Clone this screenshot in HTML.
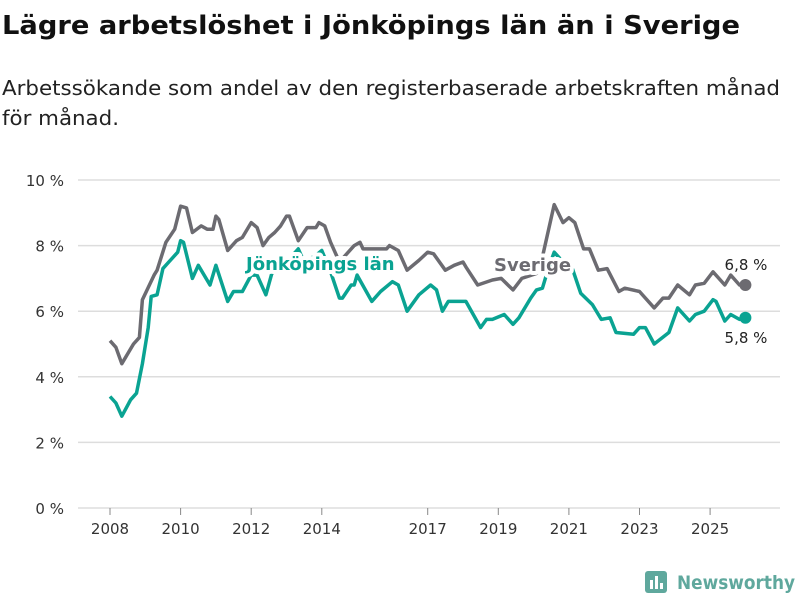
<!DOCTYPE html>
<html><head><meta charset="utf-8"><style>
body{margin:0;background:#fff;}
svg text{font-family:"DejaVu Sans","Liberation Sans",sans-serif;}
</style></head><body>
<svg id="chart" width="800" height="600" xmlns="http://www.w3.org/2000/svg">
<text x="2" y="34" font-size="26" font-weight="bold" fill="#111" textLength="738" lengthAdjust="spacingAndGlyphs">Lägre arbetslöshet i Jönköpings län än i Sverige</text>
<text x="2" y="95" font-size="20" fill="#222" textLength="778" lengthAdjust="spacingAndGlyphs">Arbetssökande som andel av den registerbaserade arbetskraften månad</text>
<text x="2" y="125" font-size="20" fill="#222" textLength="117" lengthAdjust="spacingAndGlyphs">för månad.</text>
<g id="grid"></g><g id="xaxis"></g><g id="lines"></g><g id="labels"></g>
<g>
<rect x="645" y="571" width="22" height="22" rx="3" fill="#5fa89d"/>
<rect x="650" y="580" width="3" height="9" fill="#fff"/><rect x="655" y="576" width="3" height="13" fill="#fff"/><rect x="660" y="583" width="3" height="6" fill="#fff"/>
<text x="677" y="589" font-size="19" font-weight="bold" fill="#5fa89d" textLength="118" lengthAdjust="spacingAndGlyphs">Newsworthy</text>
</g>
</svg>
<script>
const yTicks=[0,2,4,6,8,10];
const xTickYears=[2008,2010,2012,2014,2017,2019,2021,2023,2025];
const sveMonths=[0,2,4,8,10,11,15,16,19,22,24,26,28,31,33,35,36,37,40,43,45,48,50,52,54,56,58,60,61,64,67,70,71,73,75,78,83,85,86,94,95,98,101,105,108,110,114,117,120,121,125,130,133,137,140,145,147,151,154,156,158,161,163,166,169,173,175,180,185,188,190,193,197,199,202,205,209,211,214,216];
const sveValues=[5.1,4.9,4.4,5.0,5.2,6.35,7.1,7.25,8.1,8.5,9.2,9.15,8.4,8.6,8.5,8.5,8.9,8.8,7.85,8.15,8.25,8.7,8.55,8.0,8.25,8.4,8.6,8.9,8.9,8.15,8.55,8.55,8.7,8.6,8.1,7.5,8.0,8.1,7.9,7.9,8.0,7.85,7.25,7.55,7.8,7.75,7.25,7.4,7.5,7.35,6.8,6.95,7.0,6.65,7.0,7.15,7.65,9.25,8.7,8.85,8.7,7.9,7.9,7.25,7.3,6.6,6.7,6.6,6.1,6.4,6.4,6.8,6.5,6.8,6.85,7.2,6.8,7.1,6.8,6.8];
const jkpMonths=[0,2,4,7,9,11,13,14,16,18,20,23,24,25,28,30,34,36,40,42,45,48,50,53,55,60,64,66,70,72,75,78,79,82,83,84,89,92,96,98,101,105,109,111,113,115,121,126,128,130,134,137,139,143,145,147,149,151,153,157,160,164,167,170,172,178,180,182,185,190,193,197,199,202,205,206,209,211,214,216];
const jkpValues=[3.4,3.2,2.8,3.3,3.5,4.4,5.5,6.45,6.5,7.3,7.5,7.8,8.15,8.1,7.0,7.4,6.8,7.4,6.3,6.6,6.6,7.1,7.1,6.5,7.15,7.5,7.9,7.5,7.7,7.85,7.2,6.4,6.4,6.8,6.8,7.1,6.3,6.6,6.9,6.8,6.0,6.5,6.8,6.65,6.0,6.3,6.3,5.5,5.75,5.75,5.9,5.6,5.8,6.4,6.65,6.7,7.3,7.8,7.6,7.35,6.55,6.2,5.75,5.8,5.35,5.3,5.5,5.5,5.0,5.35,6.1,5.7,5.9,6.0,6.35,6.3,5.7,5.9,5.75,5.8];
const NS="http://www.w3.org/2000/svg";
const X=m=>110+m/12*35.3;
const Y=v=>508-v*32.8;
function mk(t,a,p){const e=document.createElementNS(NS,t);for(const k in a)e.setAttribute(k,a[k]);p.appendChild(e);return e;}
const grid=document.getElementById('grid');
yTicks.forEach(v=>{
 const l=mk('line',{x1:78,x2:780,y1:Y(v),y2:Y(v),stroke:'#dddddd','stroke-width':1.5},grid);
 
 
 const t=mk('text',{x:64,y:Y(v)+6,'text-anchor':'end','font-size':15,fill:'#333'},grid);
 t.textContent=v+' %';
 
 
});
const xa=document.getElementById('xaxis');
xTickYears.forEach(yr=>{
 const x=X((yr-2008)*12);
 const l=mk('line',{x1:x,x2:x,y1:508,y2:515,stroke:'#888','stroke-width':1},xa);
 
 
 const t=mk('text',{x:x,y:534,'text-anchor':'middle','font-size':15,fill:'#333'},xa);
 t.textContent=yr;
 
 
});
const lines=document.getElementById('lines');
function series(ms,vs,color,name){
 const d=ms.map((m,i)=>(i?'L':'M')+X(m).toFixed(1)+' '+Y(vs[i]).toFixed(1)).join(' ');
 const p=mk('path',{d:d,fill:'none',stroke:color,'stroke-width':3.5,'stroke-linejoin':'round'},lines);
 
 
 const n=ms.length-1;
 const c=mk('circle',{cx:X(ms[n]),cy:Y(vs[n]),r:6,fill:color},lines);
 
 
 return vs[n];
}
const sveLast=series(sveMonths,sveValues,'#6c6b71','sverige');
const jkpLast=series(jkpMonths,jkpValues,'#0aa392','jonkoping');
const lab=document.getElementById('labels');
function label(x,y,txt,color,size,w,name,anchor,sw){
 const t=mk('text',{x:x,y:y,'font-size':size,'font-weight':w,fill:color,stroke:'#fff','stroke-width':sw,'stroke-linejoin':'round','paint-order':'stroke','text-anchor':anchor||'start'},lab);
 t.textContent=txt;
 
 
}
label(246,270,'Jönköpings län','#0aa392',18,'bold','jonkoping-series-label','start',8);
label(494,271,'Sverige','#6c6b71',18,'bold','sverige-series-label','start',8);
const fmt=v=>v.toFixed(1).replace('.',',')+' %';
label(746,270,fmt(sveLast),'#222',15,'normal','sverige-end-value','middle',4);
label(746,343,fmt(jkpLast),'#222',15,'normal','jonkoping-end-value','middle',4);
</script>
</body></html>
